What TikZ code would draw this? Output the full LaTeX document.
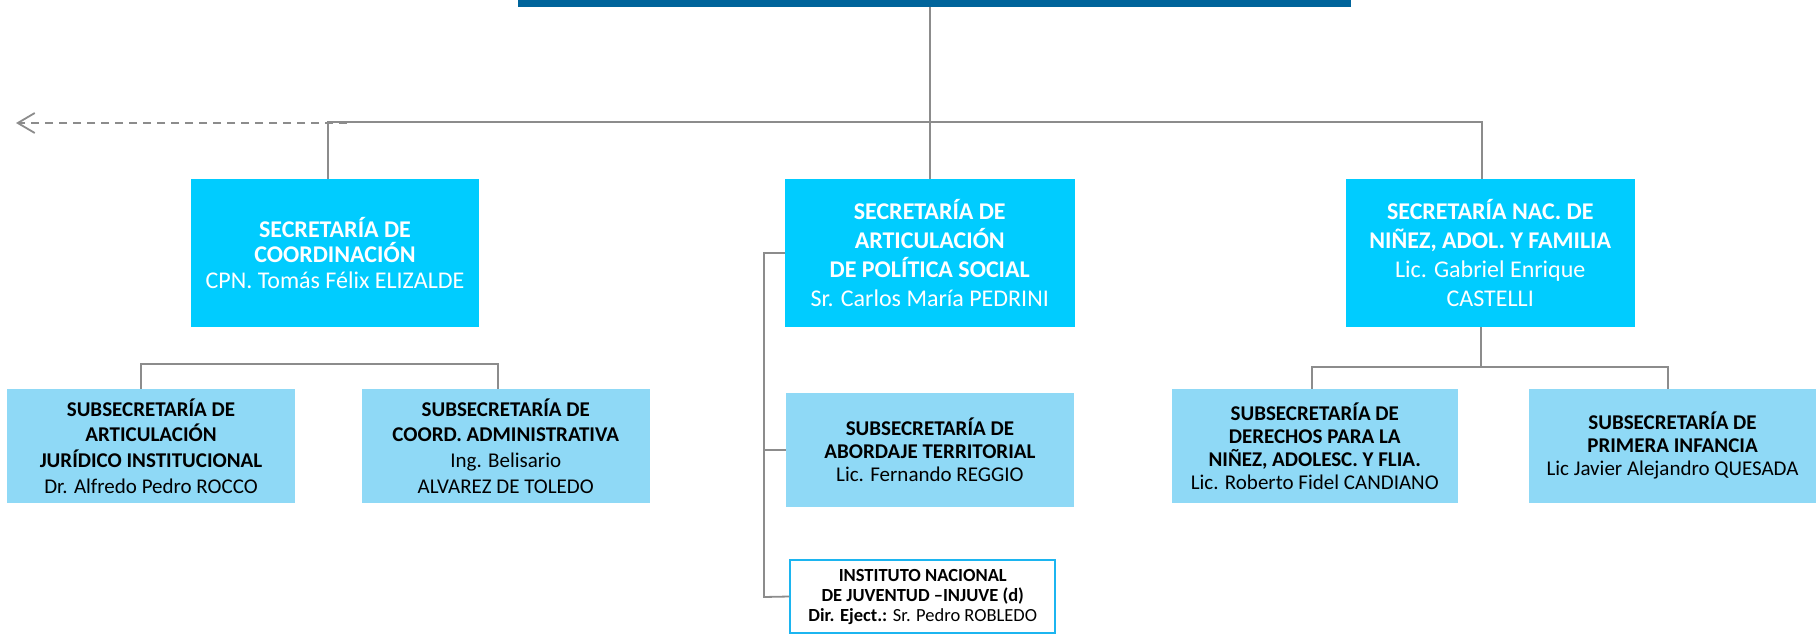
\documentclass[tikz,border=0pt]{standalone}
\usepackage{fontspec}
\setmainfont{Carlito}
\usetikzlibrary{arrows.meta}
\definecolor{topblue}{HTML}{00649B}
\definecolor{maincyan}{HTML}{00CCFF}
\definecolor{subblue}{HTML}{8FD9F6}
\definecolor{linegray}{HTML}{8C8C8C}
\definecolor{injborder}{HTML}{1CB5F0}
\begin{document}
\begin{tikzpicture}[x=1pt,y=-1pt,
  mainbox/.style={fill=maincyan, text=white, inner sep=0pt, align=center,
    minimum height=148pt, font=\fontsize{24}{28.7}\selectfont},
  subbox/.style={fill=subblue, text=black, inner sep=0pt, align=center,
    minimum height=113.7pt, font=\fontsize{21}{23}\selectfont},
  injbox/.style={draw=injborder, line width=2pt, fill=white, text=black, inner sep=0pt,
    align=center, minimum width=265pt, minimum height=73pt, font=\fontsize{18.5}{20}\selectfont},
  conn/.style={draw=linegray, line width=1.8pt},
  dashconn/.style={draw=linegray, line width=1.8pt, dash pattern=on 8pt off 6pt,
    -{Straight Barb[length=17pt,width=20pt,line width=1.8pt]}}
]
\useasboundingbox (0,0) rectangle (1817,634);
\clip (0,0) rectangle (1817,634);

% top bar
\node[fill=topblue, inner sep=0pt, minimum width=833pt, minimum height=7pt] (top) at (934.5,3.5) {};

% secretarias
\node[mainbox, minimum width=288pt, font=\fontsize{24}{25.7}\selectfont] (b1) at (335,253)
  {\textbf{SECRETARÍA DE}\\\textbf{COORDINACIÓN}\\CPN. Tomás Félix ELIZALDE};
\node[mainbox, minimum width=289.5pt] (b2) at (929.75,253)
  {\textbf{SECRETARÍA DE}\\\textbf{ARTICULACIÓN}\\\textbf{DE POLÍTICA SOCIAL}\\Sr. Carlos María PEDRINI};
\node[mainbox, minimum width=289.5pt] (b3) at (1490.25,253)
  {\textbf{SECRETARÍA NAC. DE}\\\textbf{NIÑEZ, ADOL. Y FAMILIA}\\Lic. Gabriel Enrique\\CASTELLI};

% subsecretarias
\node[subbox, minimum width=288pt, font=\fontsize{21}{25.7}\selectfont] (sa) at (151,445.85)
  {\textbf{SUBSECRETARÍA DE}\\\textbf{ARTICULACIÓN}\\\textbf{JURÍDICO INSTITUCIONAL}\\Dr. Alfredo Pedro ROCCO};
\node[subbox, minimum width=288.5pt, font=\fontsize{21}{25.7}\selectfont] (sb) at (505.75,445.85)
  {\textbf{SUBSECRETARÍA DE}\\\textbf{COORD. ADMINISTRATIVA}\\Ing. Belisario\\ALVAREZ DE TOLEDO};
\node[subbox, minimum width=288.2pt] (ab) at (929.9,449.85)
  {\textbf{SUBSECRETARÍA DE}\\\textbf{ABORDAJE TERRITORIAL}\\Lic. Fernando REGGIO};
\node[subbox, minimum width=285.5pt] (sc) at (1314.75,445.85)
  {\textbf{SUBSECRETARÍA DE}\\\textbf{DERECHOS PARA LA}\\\textbf{NIÑEZ, ADOLESC. Y FLIA.}\\Lic. Roberto Fidel CANDIANO};
\node[subbox, minimum width=287pt] (sd) at (1672.5,445.85)
  {\textbf{SUBSECRETARÍA DE}\\\textbf{PRIMERA INFANCIA}\\Lic Javier Alejandro QUESADA};
\node[injbox] (inj) at (922.75,596.5)
  {\textbf{INSTITUTO NACIONAL}\\\textbf{DE JUVENTUD –INJUVE (d)}\\\textbf{Dir. Eject.:} Sr. Pedro ROBLEDO};

% connector coordinates
\coordinate (hl) at (328,122);
\coordinate (hr) at (1482,122);
\coordinate (dstart) at (347,123);
\coordinate (tip) at (16,123);
\coordinate (al) at (141,364);
\coordinate (ar) at (498,364);
\coordinate (cm) at (1481,367);
\coordinate (cl) at (1312,367);
\coordinate (cr) at (1668,367);
\coordinate (vl) at (764,253);
\coordinate (vb) at (764,597);

% connectors
\draw[conn] (top.south -| b2.north) -- (b2.north);
\draw[conn] (b1.north -| hl) -- (hl) -- (hr) -- (b3.north -| hr);
\draw[dashconn] (dstart) -- (tip);
\draw[conn] (sa.north -| al) -- (al) -- (ar) -- (sb.north -| ar);
\draw[conn] (b3.south -| cm) -- (cm);
\draw[conn] (sc.north -| cl) -- (cl) -- (cr) -- (sd.north -| cr);
\draw[conn] (b2.west) -- (vl) -- (vb) -- (inj.west);
\draw[conn] (vl |- ab.west) -- (ab.west);
\end{tikzpicture}
\end{document}
